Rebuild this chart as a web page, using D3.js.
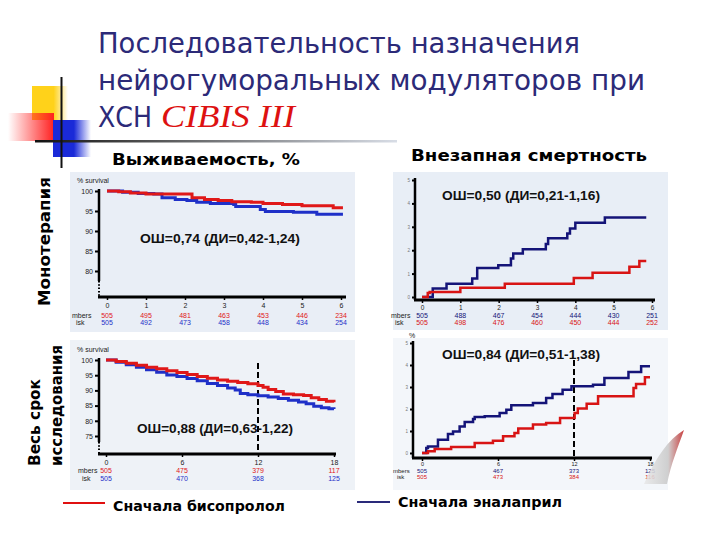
<!DOCTYPE html>
<html><head><meta charset="utf-8">
<script src="https://cdn.jsdelivr.net/npm/d3@7"></script>
<style>body{margin:0;background:#fff}svg{display:block}</style>
</head><body><svg id="c" width="720" height="540"></svg>
<script>
// ---------- text ----------
const titleLines = ["Последовательность назначения", "нейрогуморальных модуляторов при", "ХСН"];
const titleItalic = "CIBIS III";
const colHeaders = ["Выживаемость, %", "Внезапная смертность"];
const rowHeaders = ["Монотерапия", "Весь срок", "исследования"];
const legendLabels = ["Сначала бисопролол", "Сначала эналаприл"];
const annotations = ["ОШ=0,74 (ДИ=0,42-1,24)", "ОШ=0,50 (ДИ=0,21-1,16)", "ОШ=0,88 (ДИ=0,63-1,22)", "ОШ=0,84 (ДИ=0,51-1,38)"];

// ---------- ticks ----------
const xTicksMono = [0, 1, 2, 3, 4, 5, 6];
const xTicksAll = [0, 6, 12, 18];
const yTicksSurvMono = [100, 95, 90, 85, 80];
const yTicksSurvAll = [100, 95, 90, 85, 80, 75];
const yTicksSudden = [0, 1, 2, 3, 4, 5];

// ---------- numbers at risk ----------
const riskMonoSurvBis = [505, 495, 481, 463, 453, 446, 234];
const riskMonoSurvEna = [505, 492, 473, 458, 448, 434, 254];
const riskMonoSudEna = [505, 488, 467, 454, 444, 430, 251];
const riskMonoSudBis = [505, 498, 476, 460, 450, 444, 252];
const riskAllSurvBis = [505, 475, 379, 117];
const riskAllSurvEna = [505, 470, 368, 125];
const riskAllSudEna = [505, 467, 373, 125];
const riskAllSudBis = [505, 473, 384, 116];

// ---------- curves (months, %) ----------
const monoSurvBisT = [0, 0.3, 0.6, 1.0, 2.18, 2.5, 2.85, 3.2, 3.7, 4.0, 4.5, 5.0, 5.8, 6.05];
const monoSurvBisV = [100, 99.8, 99.5, 99.25, 98.3, 97.9, 97.6, 97.3, 97.2, 96.9, 96.6, 96.3, 95.8, 95.8];
const monoSurvEnaT = [0, 0.4, 0.8, 1.2, 1.41, 1.75, 2.05, 2.3, 2.65, 3.25, 3.3, 3.93, 4.06, 4.78, 5.38, 6.05];
const monoSurvEnaV = [100, 99.7, 99.4, 99.25, 98.3, 97.9, 97.6, 97.2, 96.9, 96.6, 96.1, 95.4, 94.9, 94.7, 94.2, 94.2];

const monoSudEnaT = [0, 0.28, 0.64, 1.31, 1.44, 1.99, 2.32, 2.38, 2.63, 3.23, 3.29, 3.79, 3.86, 4.0, 4.77, 5.85];
const monoSudEnaV = [0, 0.36, 0.57, 0.79, 1.24, 1.36, 1.64, 1.86, 2.04, 2.26, 2.51, 2.71, 2.93, 3.17, 3.4, 3.4];
const monoSudBisT = [0, 0.15, 0.2, 1.0, 2.16, 3.96, 4.45, 5.41, 5.67, 5.85];
const monoSudBisV = [0, 0.17, 0.21, 0.39, 0.57, 0.81, 1.04, 1.29, 1.54, 1.54];

const allSurvBisT = [0, 0.8, 1.6, 2.4, 3.2, 4.0, 4.8, 5.6, 6.4, 7.2, 8.0, 8.8, 9.6, 10.4, 11.2, 12.0, 12.4, 12.8, 13.4, 14.0, 14.8, 15.6, 16.2, 16.8, 17.4, 18.0];
const allSurvBisV = [100, 99.5, 98.9, 98.3, 97.6, 97.1, 96.5, 95.9, 95.2, 94.6, 94.0, 93.4, 93.0, 92.6, 92.2, 91.6, 91.0, 90.3, 89.6, 88.8, 88.6, 88.3, 87.6, 87.0, 86.4, 86.1];
const allSurvEnaT = [0, 0.8, 1.6, 2.4, 3.2, 4.0, 4.8, 5.6, 6.4, 7.2, 8.0, 8.8, 9.6, 10.2, 10.6, 11.2, 12.0, 12.8, 13.6, 14.4, 15.2, 15.8, 16.4, 17.0, 17.6, 18.0];
const allSurvEnaV = [100, 99.3, 98.4, 97.6, 96.8, 96.0, 95.1, 94.6, 93.9, 93.2, 92.3, 91.6, 90.8, 90.1, 89.0, 88.6, 88.2, 87.8, 87.3, 86.8, 86.2, 85.6, 84.8, 84.3, 84.0, 83.9];

const allSudEnaT = [0, 0.34, 0.47, 1.26, 2.05, 2.45, 2.97, 3.37, 4.03, 4.16, 4.95, 6.13, 6.66, 7.05, 8.76, 9.8, 10.3, 11.1, 11.8, 13.5, 14.4, 16.3, 17.3, 18.0];
const allSudEnaV = [0, 0.23, 0.3, 0.6, 0.86, 0.98, 1.21, 1.41, 1.55, 1.64, 1.67, 1.82, 1.97, 2.17, 2.27, 2.5, 2.68, 2.88, 3.03, 3.1, 3.41, 3.68, 3.94, 3.94];
const allSudBisT = [0, 0.47, 1.0, 2.3, 4.16, 5.6, 6.4, 7.3, 7.6, 8.76, 9.8, 10.9, 12.05, 12.3, 13.0, 13.9, 16.7, 16.9, 17.6, 18.0];
const allSudBisV = [0, 0.08, 0.18, 0.27, 0.45, 0.56, 0.76, 0.91, 1.11, 1.29, 1.36, 1.59, 1.82, 2.02, 2.24, 2.58, 2.95, 3.14, 3.44, 3.44];

// ---------- drawing ----------
const svg = d3.select("#c");
const RED = "#e01818", BLUE_L = "#1f30c8", NAVY = "#141478", RED_R = "#d81414";
const SANS = "'DejaVu Sans', Verdana, sans-serif";
const ARIAL = "'Liberation Sans', Arial, sans-serif";
const defs = svg.append("defs");
const fmtInt = d3.format("d");

function grad(id, stops, x2 = "100%", y2 = "0%") {
  const g = defs.append("linearGradient").attr("id", id).attr("x1", "0%").attr("y1", "0%").attr("x2", x2).attr("y2", y2);
  stops.forEach(s => g.append("stop").attr("offset", s[0]).attr("stop-color", s[1]).attr("stop-opacity", s[2] ?? 1));
}
grad("gy", [["0%", "#ffd21a"], ["60%", "#ffd21a"], ["100%", "#ffd21a", 0]]);
grad("gr", [["0%", "#ff2020", 0], ["100%", "#ff2020"]]);
grad("gb", [["0%", "#1a2ad8"], ["55%", "#1a2ad8"], ["100%", "#1a2ad8", 0]]);
grad("gl", [["0%", "#111"], ["25%", "#444"], ["100%", "#d8dde6"]]);
grad("gsw", [["0%", "#e8e8e8"], ["60%", "#c8c8c8"], ["100%", "#c02020"]]);

// decoration
svg.append("rect").attr("x", 32).attr("y", 86).attr("width", 36).attr("height", 34).attr("fill", "url(#gy)");
svg.append("rect").attr("x", 8).attr("y", 113).attr("width", 46).attr("height", 28).attr("fill", "url(#gr)");
svg.append("rect").attr("x", 53).attr("y", 120).attr("width", 38).attr("height", 37).attr("fill", "url(#gb)");
svg.append("rect").attr("x", 35).attr("y", 140).attr("width", 362).attr("height", 2.5).attr("fill", "url(#gl)");
svg.append("line").attr("x1", 61.5).attr("x2", 61.5).attr("y1", 77).attr("y2", 168).attr("stroke", "#111").attr("stroke-width", 2);

// title
const tcol = "#2c2a78";
const tl = [[53, 482], [90, 547], [127, 54]];
titleLines.forEach((s, i) => {
  svg.append("text").attr("x", 98).attr("y", tl[i][0]).attr("font-family", SANS).attr("font-size", 29)
    .attr("fill", tcol).attr("textLength", tl[i][1]).attr("lengthAdjust", "spacingAndGlyphs").text(s);
});
svg.append("text").attr("x", 161).attr("y", 127).attr("font-family", "'Liberation Serif', 'Times New Roman', serif")
  .attr("font-style", "italic").attr("font-size", 32).attr("fill", "#dd1111").attr("textLength", 134)
  .attr("lengthAdjust", "spacingAndGlyphs").text(titleItalic);

// column headers
svg.append("text").attr("x", 112).attr("y", 165).attr("font-family", SANS).attr("font-weight", "bold").attr("font-size", 16)
  .attr("textLength", 188).attr("lengthAdjust", "spacingAndGlyphs").text(colHeaders[0]);
svg.append("text").attr("x", 411).attr("y", 161).attr("font-family", SANS).attr("font-weight", "bold").attr("font-size", 16)
  .attr("textLength", 236).attr("lengthAdjust", "spacingAndGlyphs").text(colHeaders[1]);

// row headers (rotated)
function vtext(x, y, s, len) {
  svg.append("text").attr("transform", `translate(${x},${y}) rotate(-90)`).attr("font-family", SANS)
    .attr("font-weight", "bold").attr("font-size", 15).attr("textLength", len).attr("lengthAdjust", "spacingAndGlyphs").text(s);
}
vtext(50, 306, rowHeaders[0], 129);
vtext(40, 466, rowHeaders[1], 87);
vtext(62, 466, rowHeaders[2], 121);

// panels
function panel(o) {
  const g = svg.append("g");
  g.append("rect").attr("x", o.bg[0]).attr("y", o.bg[1]).attr("width", o.bg[2]).attr("height", o.bg[3]).attr("fill", o.bgFill);
  const x = d3.scaleLinear().domain(o.xDomain).range(o.xRange);
  const y = d3.scaleLinear().domain(o.yDomain).range(o.yRange);

  // y axis
  const yg = g.append("g").attr("transform", `translate(${o.axisX},0)`)
    .call(d3.axisLeft(y).tickValues(o.yTicks).tickFormat(fmtInt).tickSize(o.yTickSize).tickPadding(2));
  yg.select(".domain").remove();
  yg.selectAll(".tick line").attr("stroke", "#000").attr("stroke-width", 2);
  yg.selectAll(".tick text").attr("font-family", ARIAL).attr("font-size", o.yFont).attr("fill", o.yTextFill);
  g.append("line").attr("x1", o.axisX).attr("x2", o.axisX).attr("y1", o.axisTop).attr("y2", o.solidBottom)
    .attr("stroke", "#000").attr("stroke-width", 2.5);
  if (o.solidBottom < o.axisY) {
    g.append("line").attr("x1", o.axisX).attr("x2", o.axisX).attr("y1", o.solidBottom).attr("y2", o.axisY)
      .attr("stroke", "#000").attr("stroke-width", 2).attr("stroke-dasharray", "1.5,1.8");
  }
  // x axis
  const xg = g.append("g").attr("transform", `translate(0,${o.axisY})`)
    .call(d3.axisBottom(x).tickValues(o.xTicks).tickFormat(fmtInt).tickSize(3).tickPadding(o.xPad));
  xg.select(".domain").remove();
  xg.selectAll(".tick line").attr("stroke", "#000").attr("stroke-width", 1.5);
  xg.selectAll(".tick text").attr("font-family", ARIAL).attr("font-size", o.xFont).attr("fill", "#222");
  g.append("line").attr("x1", o.axisX - 1).attr("x2", o.xEnd).attr("y1", o.axisY).attr("y2", o.axisY)
    .attr("stroke", "#000").attr("stroke-width", 3);

  // dashed landmark
  if (o.dash != null) {
    g.append("line").attr("x1", x(o.dash)).attr("x2", x(o.dash)).attr("y1", o.dashTop).attr("y2", o.axisY)
      .attr("stroke", "#000").attr("stroke-width", 2).attr("stroke-dasharray", "6,3");
  }

  // curves
  const line = d3.line().x(d => x(d[0])).y(d => y(d[1])).curve(d3.curveStepAfter);
  o.series.forEach(s => {
    g.append("path").attr("d", line(d3.zip(s.t, s.v))).attr("fill", "none").attr("stroke", s.color)
      .attr("stroke-width", s.w).attr("stroke-linejoin", "miter");
  });

  // annotation
  g.append("text").attr("x", o.ann[0]).attr("y", o.ann[1]).attr("font-family", ARIAL).attr("font-weight", "bold")
    .attr("font-size", 12.5).attr("fill", "#111").attr("textLength", o.ann[2]).attr("lengthAdjust", "spacingAndGlyphs").text(o.annText);

  // numbers at risk
  g.append("text").attr("x", o.riskLabelX).attr("y", o.riskY[0]).attr("font-family", ARIAL).attr("font-size", o.riskFont).attr("fill", "#222").text("mbers");
  g.append("text").attr("x", o.riskLabelX + 4).attr("y", o.riskY[1]).attr("font-family", ARIAL).attr("font-size", o.riskFont).attr("fill", "#222").text("isk");
  o.risk.forEach((r, k) => {
    g.selectAll(null).data(r.vals).join("text").attr("x", (d, i) => x(o.xTicks[i])).attr("y", o.riskY[k])
      .attr("text-anchor", "middle").attr("font-family", ARIAL).attr("font-size", o.riskFont).attr("fill", r.color).text(d => d);
  });
  if (o.topLabel) {
    g.append("text").attr("x", o.topLabel[0]).attr("y", o.topLabel[1]).attr("font-family", ARIAL)
      .attr("font-size", 7).attr("fill", "#222").text(o.topLabel[2]);
  }
}

panel({
  bg: [70, 172, 285, 160], bgFill: "#e9eef6",
  xDomain: [0, 6], xRange: [107, 341], yDomain: [100, 80], yRange: [191, 271],
  axisX: 99, axisTop: 189, solidBottom: 281, axisY: 297, xEnd: 346,
  yTicks: yTicksSurvMono, yTickSize: 4, yFont: 7, yTextFill: "#222", xTicks: xTicksMono, xPad: 3, xFont: 7,
  series: [{ t: monoSurvEnaT, v: monoSurvEnaV, color: BLUE_L, w: 3 }, { t: monoSurvBisT, v: monoSurvBisV, color: RED, w: 3 }],
  ann: [140, 243, 160], annText: annotations[0],
  riskLabelX: 72, riskY: [318, 325], riskFont: 7,
  risk: [{ vals: riskMonoSurvBis, color: RED }, { vals: riskMonoSurvEna, color: BLUE_L }],
  topLabel: [77, 183, "% survival"]
});

panel({
  bg: [393, 172, 275, 158], bgFill: "#e8eef6",
  xDomain: [0, 6], xRange: [422, 652], yDomain: [0, 5], yRange: [297, 180],
  axisX: 415, axisTop: 178, solidBottom: 300, axisY: 300, xEnd: 655,
  yTicks: yTicksSudden, yTickSize: 3, yFont: 4.5, yTextFill: "#777", xTicks: xTicksMono, xPad: 2, xFont: 6.5,
  series: [{ t: monoSudEnaT, v: monoSudEnaV, color: NAVY, w: 2.5 }, { t: monoSudBisT, v: monoSudBisV, color: RED_R, w: 2.5 }],
  ann: [442, 200, 158], annText: annotations[1],
  riskLabelX: 391, riskY: [318, 325], riskFont: 7,
  risk: [{ vals: riskMonoSudEna, color: NAVY }, { vals: riskMonoSudBis, color: RED_R }]
});

panel({
  bg: [70, 340, 285, 150], bgFill: "#eef2f7",
  xDomain: [0, 18], xRange: [106, 334], yDomain: [100, 75], yRange: [360, 436],
  axisX: 99, axisTop: 358, solidBottom: 442, axisY: 454, xEnd: 336,
  yTicks: yTicksSurvAll, yTickSize: 4, yFont: 7, yTextFill: "#222", xTicks: xTicksAll, xPad: 3, xFont: 7,
  dash: 12, dashTop: 363,
  series: [{ t: allSurvEnaT, v: allSurvEnaV, color: BLUE_L, w: 3 }, { t: allSurvBisT, v: allSurvBisV, color: RED, w: 3 }],
  ann: [137, 433, 156], annText: annotations[2],
  riskLabelX: 78, riskY: [473, 481], riskFont: 7,
  risk: [{ vals: riskAllSurvBis, color: RED }, { vals: riskAllSurvEna, color: BLUE_L }],
  topLabel: [77, 352, "% survival"]
});

panel({
  bg: [393, 338, 275, 152], bgFill: "#f3f6fa",
  xDomain: [0, 18], xRange: [422, 650], yDomain: [0, 5], yRange: [453, 343],
  axisX: 413, axisTop: 341, solidBottom: 458, axisY: 458, xEnd: 652,
  yTicks: yTicksSudden, yTickSize: 3, yFont: 4.5, yTextFill: "#777", xTicks: xTicksAll, xPad: 1, xFont: 5.5,
  dash: 12, dashTop: 360,
  series: [{ t: allSudEnaT, v: allSudEnaV, color: NAVY, w: 2.5 }, { t: allSudBisT, v: allSudBisV, color: RED_R, w: 2.5 }],
  ann: [442, 359, 158], annText: annotations[3],
  riskLabelX: 393, riskY: [473, 479], riskFont: 6,
  risk: [{ vals: riskAllSudEna, color: NAVY }, { vals: riskAllSudBis, color: RED_R }],
  topLabel: [409, 338, "%"]
});

// swoosh decoration
svg.append("path").attr("d", "M644,484 C656,457 668,440 684,430 C678,447 671,464 667,484 Z").attr("fill", "url(#gsw)").attr("opacity", 0.85);

// legend
svg.append("line").attr("x1", 63).attr("x2", 105).attr("y1", 503).attr("y2", 503).attr("stroke", "#e01010").attr("stroke-width", 2);
svg.append("text").attr("x", 113).attr("y", 511).attr("font-family", SANS).attr("font-weight", "bold").attr("font-size", 14)
  .attr("textLength", 172).attr("lengthAdjust", "spacingAndGlyphs").text(legendLabels[0]);
svg.append("line").attr("x1", 357).attr("x2", 390).attr("y1", 502).attr("y2", 502).attr("stroke", "#2a2a7a").attr("stroke-width", 2);
svg.append("text").attr("x", 398).attr("y", 507).attr("font-family", SANS).attr("font-weight", "bold").attr("font-size", 14)
  .attr("textLength", 164).attr("lengthAdjust", "spacingAndGlyphs").text(legendLabels[1]);
</script></body></html>
